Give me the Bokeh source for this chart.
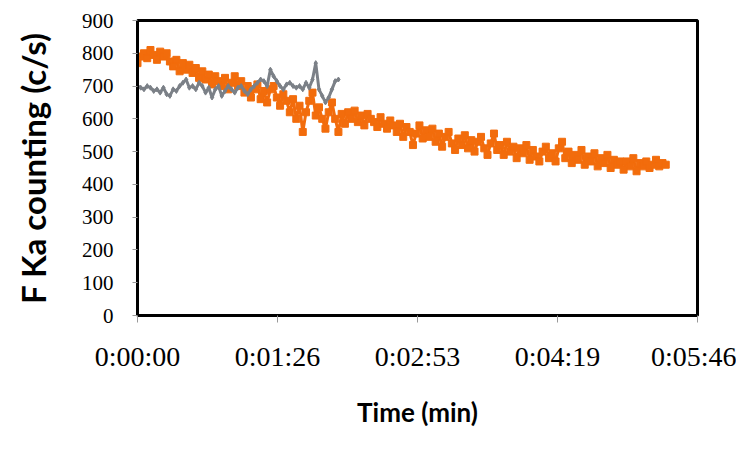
from bokeh.plotting import figure
from bokeh.models import Range1d, FixedTicker
from bokeh.embed import file_html
from bokeh.resources import INLINE

# ---- data ----
step = 2  # seconds between samples
orange_values = [
    770, 790, 800, 785, 810, 795, 780, 805, 790, 800,
    775, 760, 780, 745, 770, 750, 765, 740, 755, 725,
    745, 720, 735, 705, 730, 715, 700, 725, 690, 710,
    730, 700, 715, 680, 700, 665, 690, 705, 660, 685,
    650, 690, 700, 665, 640, 675, 655, 620, 660, 600,
    640, 560, 620, 655, 680, 610, 635, 600, 570, 620,
    650, 600, 560, 615, 585, 620, 600, 625, 590, 610,
    580, 615, 600, 590, 575, 605, 585, 570, 595, 580,
    560, 585, 545, 575, 560, 520, 555, 580, 540, 565,
    545, 570, 530, 555, 515, 545, 560, 525, 505, 540,
    520, 550, 510, 535, 500, 530, 545, 510, 490, 525,
    555, 505, 520, 490, 530, 500, 515, 480, 510, 495,
    520, 475, 505, 485, 470, 500, 515, 480, 495, 470,
    510, 530, 480, 500, 465, 490, 475, 505, 460, 485,
    470, 495, 455, 480, 465, 490, 450, 475, 460, 470,
    445, 470, 455, 480, 440, 465, 455, 470, 450, 460,
    475, 455, 465, 460,
]
gray_values = [
    700, 695, 690, 700, 695, 685, 690, 680, 695, 675,
    670, 690, 685, 700, 710, 720, 695, 700, 690, 710,
    700, 680, 695, 665, 690, 700, 670, 685, 700, 690,
    680, 695, 700, 685, 675, 690, 700, 710, 720, 715,
    700, 750, 730, 715, 700, 690, 705, 710, 700, 695,
    700, 690, 710, 695, 720, 770, 690, 670, 650, 665,
    690, 715, 720,
]
orange_t = [i * step for i in range(len(orange_values))]
gray_t = [i * step for i in range(len(gray_values))]

time_ticks = [0, 86.4, 172.8, 259.2, 345.6]
time_labels = ["0:00:00", "0:01:26", "0:02:53", "0:04:19", "0:05:46"]
count_ticks = [0, 100, 200, 300, 400, 500, 600, 700, 800, 900]

ORANGE = "#F26C0C"
GRAY = "#7B8087"

p = figure(frame_width=560, frame_height=295,
           min_border_left=137, min_border_right=39, min_border_top=20, min_border_bottom=132,
           x_range=Range1d(0, 345.6), y_range=Range1d(0, 900),
           output_backend="svg", toolbar_location=None)

p.line(orange_t, orange_values, line_color=ORANGE, line_width=3)
p.scatter(orange_t, orange_values, marker="square", size=7, fill_color=ORANGE, line_color=ORANGE)
p.line(gray_t, gray_values, line_color=GRAY, line_width=3)
p.scatter(gray_t, gray_values, marker="diamond", size=5, fill_color=GRAY, line_color=GRAY)

p.xgrid.visible = False
p.ygrid.visible = False
p.outline_line_color = "black"
p.outline_line_width = 3
p.outline_line_alpha = 1
p.background_fill_color = "white"
p.border_fill_color = "white"

p.xaxis.ticker = FixedTicker(ticks=time_ticks)
p.xaxis.major_label_overrides = {t: l for t, l in zip(time_ticks, time_labels)}
p.yaxis.ticker = FixedTicker(ticks=count_ticks)

for ax in (p.xaxis[0], p.yaxis[0]):
    ax.axis_line_color = "black"
    ax.axis_line_width = 3
    ax.major_tick_line_color = "#999999"
    ax.major_tick_line_width = 1
    ax.major_tick_in = 0
    ax.minor_tick_line_color = None
    ax.major_label_text_font = "Liberation Serif"
    ax.major_label_text_color = "black"
    ax.axis_label_text_font = "Lato"
    ax.axis_label_text_font_style = "bold"
    ax.axis_label_text_color = "black"

p.yaxis.major_tick_out = 5
p.xaxis.major_tick_out = 7
p.yaxis.major_label_text_font_size = "21px"
p.xaxis.major_label_text_font_size = "28px"
p.yaxis.major_label_standoff = 19
p.xaxis.major_label_standoff = 18

p.xaxis.axis_label = "Time (min)"
p.yaxis.axis_label = "F Ka counting (c/s)"
p.xaxis.axis_label_text_font_size = "26px"
p.yaxis.axis_label_text_font_size = "33px"
p.xaxis.axis_label_standoff = 21
p.yaxis.axis_label_standoff = 26

open("out.html", "w").write(file_html(p, INLINE))
